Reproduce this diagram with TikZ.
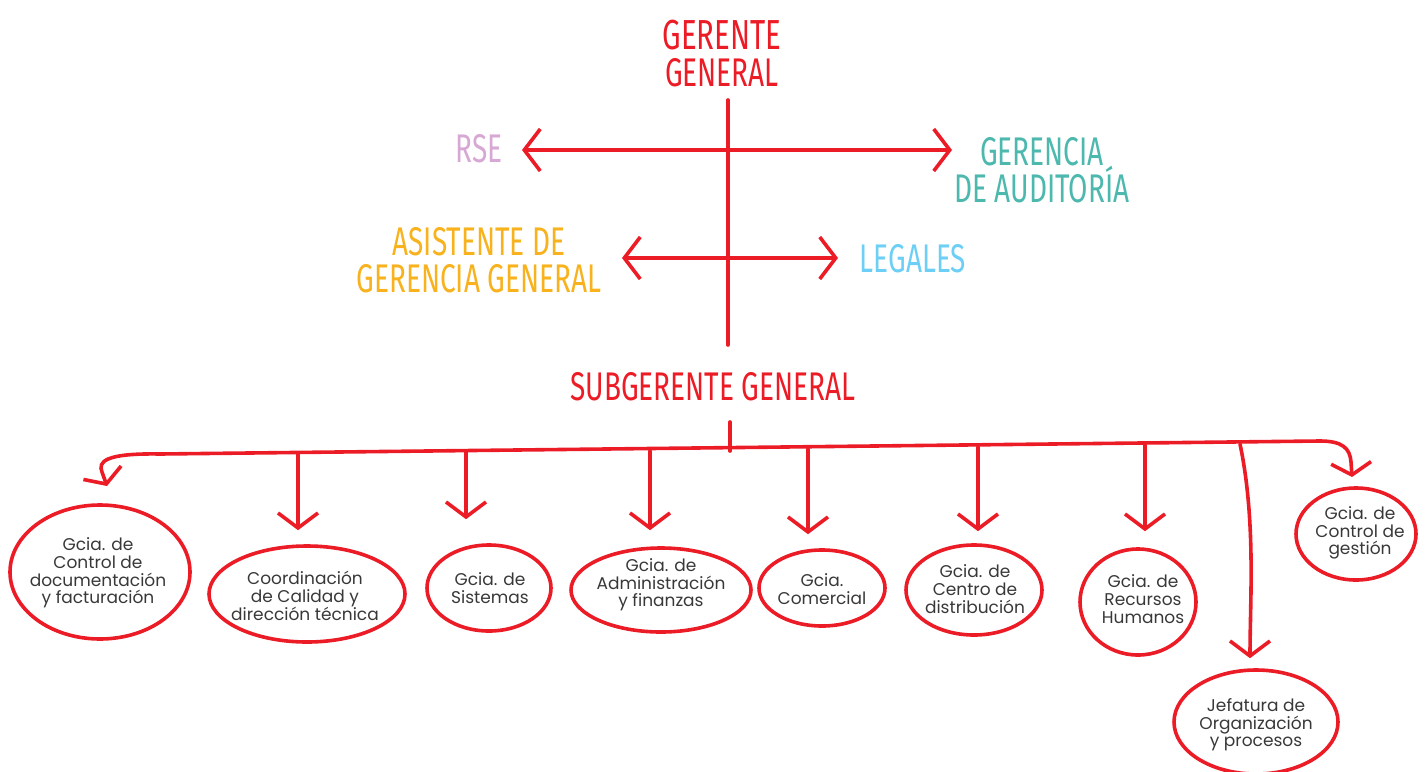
\documentclass[tikz,border=0pt]{standalone}
\usepackage{fontspec}
\setmainfont{Poppins}
\newfontfamily\hand[FakeStretch=0.70]{Fira Sans}
\usetikzlibrary{shapes.geometric,arrows.meta,calc}
\definecolor{rd}{HTML}{EC1C27}
\definecolor{lav}{HTML}{D8A8D4}
\definecolor{teal}{HTML}{4DB8AE}
\definecolor{amb}{HTML}{F7B21D}
\definecolor{sky}{HTML}{6DCFF6}
\definecolor{txt}{HTML}{383838}
\begin{document}
\begin{tikzpicture}[x=1pt,y=-1pt,
  head/.style={font=\hand\fontsize{40}{37}\selectfont, align=center, inner sep=0pt},
  body/.style={font=\fontsize{17}{17.6}\selectfont, text=txt, align=center, inner sep=0pt},
  oval/.style={draw=rd, line width=3.6pt, ellipse, inner sep=0pt},
  conn/.style={draw=rd, line width=3.6pt, line cap=round},
  arr/.style={conn, -{Straight Barb[length=15pt,width=40pt]}},
  dbl/.style={conn, {Straight Barb[length=16pt,width=42pt]}-{Straight Barb[length=16pt,width=42pt]}}]
\useasboundingbox (0,0) rectangle (1426,771);
\clip (0,0) rectangle (1426,771);
% headings
\node[head, text=rd] (gg) at (722,54) {\fontsize{42}{37}\selectfont GERENTE\\GENERAL};
\node[head, text=lav] (rse) at (479,149) {RSE};
\node[head, text=teal] (aud) at (1042,170) {GERENCIA\\DE AUDITORÍA};
\node[head, text=amb] (asis) at (479,260) {ASISTENTE DE\\GERENCIA GENERAL};
\node[head, text=sky] (leg) at (913,259) {LEGALES};
\node[head, text=rd] (sg) at (713,387) {SUBGERENTE GENERAL};
% main trunk and lateral arrows
\coordinate (v1) at (728,100);
\coordinate (v2) at (728,345);
\draw[conn] (v1) -- (v2);
\coordinate (a1) at (522,150);
\coordinate (a2) at (952,150);
\draw[dbl] (a1) -- (a2);
\coordinate (b1) at (622,258);
\coordinate (b2) at (838,258);
\draw[dbl] (b1) -- (b2);
% ellipses
\node[oval, minimum width=180pt, minimum height=134pt] (e1) at (100,572) {};
\node[oval, minimum width=196pt, minimum height=96pt] (e2) at (307,594) {};
\node[oval, minimum width=124pt, minimum height=86pt] (e3) at (489,588) {};
\node[oval, minimum width=180pt, minimum height=84pt] (e4) at (661,590) {};
\node[oval, minimum width=126pt, minimum height=76pt] (e5) at (822,588) {};
\node[oval, minimum width=136pt, minimum height=90pt] (e6) at (974,590) {};
\node[oval, minimum width=116pt, minimum height=106pt] (e7) at (1138,602) {};
\node[oval, minimum width=120pt, minimum height=92pt] (e8) at (1356,534) {};
\node[oval, minimum width=164pt, minimum height=104pt] (e9) at (1256,722) {};
% texts
\node[body] (t1) at (98,573) {Gcia. de\\Control de\\documentación\\y facturación};
\node[body] (t2) at (305,596) {Coordinación\\de Calidad y\\dirección técnica};
\node[body] (t3) at (490,588) {Gcia. de\\Sistemas};
\node[body] (t4) at (661,585) {Gcia. de\\Administración\\y finanzas};
\node[body] (t5) at (822,589) {Gcia.\\Comercial};
\node[body] (t6) at (975,589) {Gcia. de\\Centro de\\distribución};
\node[body] (t7) at (1143,599) {Gcia. de\\Recursos\\Humanos};
\node[body] (t8) at (1360,533) {Gcia. de\\Control de\\gestión};
\node[body] (t9) at (1256,725) {Jefatura de\\Organización\\y procesos};
% bus
\coordinate (s1) at (730,422);
\coordinate (s2) at (730,451);
\draw[conn] (s1) -- (s2);
\coordinate (busL) at (160,454);
\coordinate (busR) at (1320,441);
\draw[conn] (busL) -- (busR);
\draw[conn, -{Straight Barb[length=12pt,width=40pt]}] (busL) .. controls (104,453) and (98,462) .. (102,472) -- (107,486);
\draw[conn, -{Straight Barb[length=12pt,width=40pt]}] (busR) .. controls (1342,441) and (1350,448) .. (1351,462) -- (1352,477);
% drops
\coordinate (d2) at (298,453);
\coordinate (d3) at (466,452);
\coordinate (d4) at (650,451);
\coordinate (d5) at (808,449);
\coordinate (d6) at (978,447);
\coordinate (d7) at (1145,445);
\coordinate (d9) at (1240,444);
\draw[arr, shorten >=14pt] (d2) -- (d2 |- e2.north);
\draw[arr, shorten >=24pt] (d3) -- (d3 |- e3.north);
\draw[arr, shorten >=16pt] (d4) -- (d4 |- e4.north);
\draw[arr, shorten >=14pt] (d5) -- (d5 |- e5.north);
\draw[arr, shorten >=12pt] (d6) -- (d6 |- e6.north);
\draw[arr, shorten >=16pt] (d7) -- (d7 |- e7.north);
\draw[arr] (d9) .. controls (1256,520) and (1250,600) .. ($(e9.north)+(-6,-10)$);
\end{tikzpicture}
\end{document}
